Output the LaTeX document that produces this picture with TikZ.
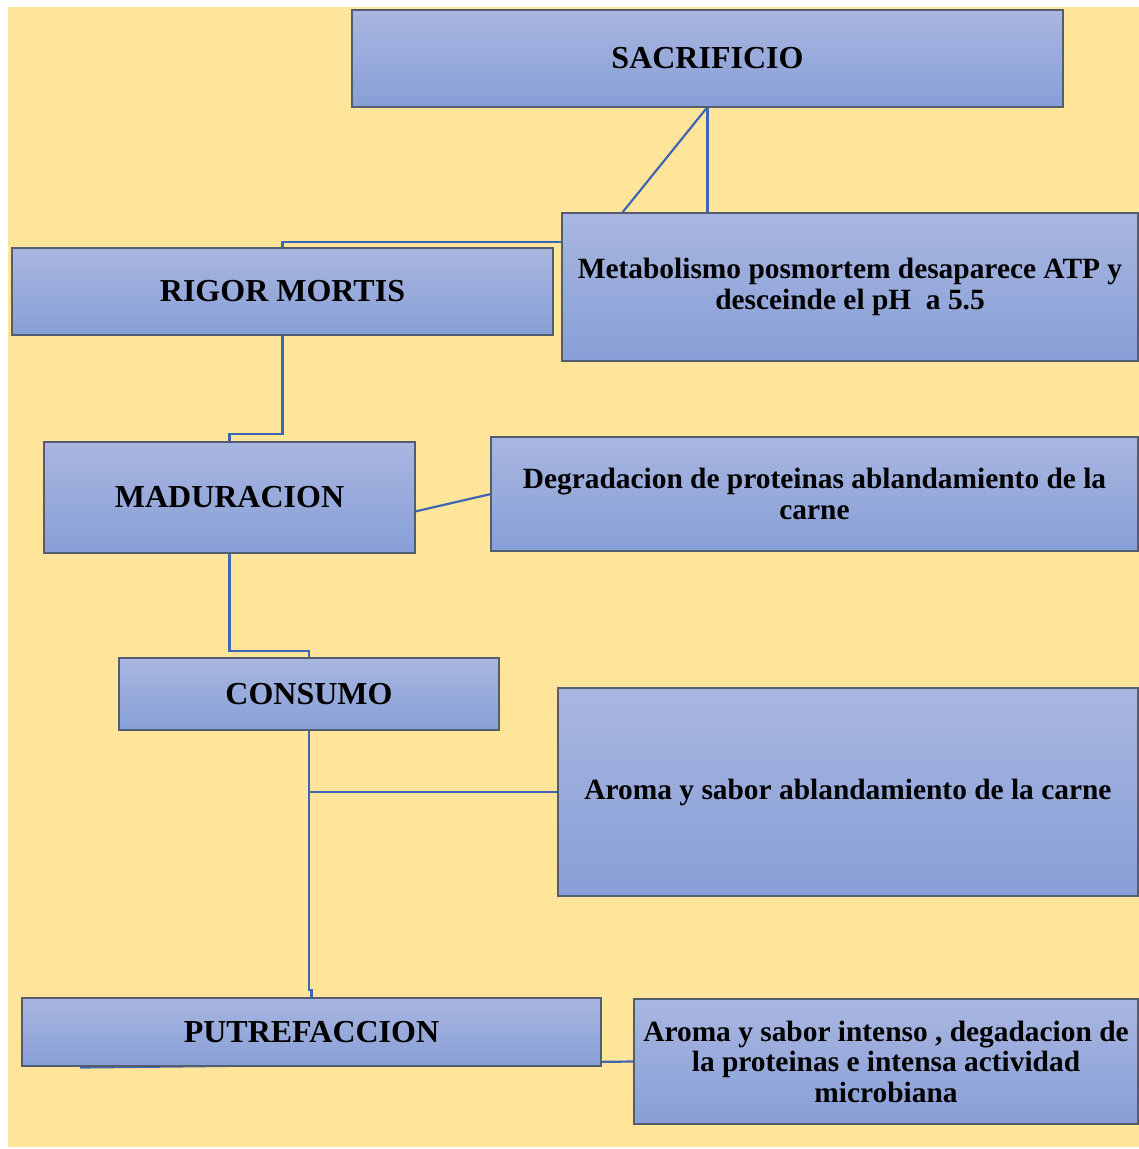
\documentclass[tikz,border=0pt]{standalone}
\usepackage{fontspec}
\setmainfont{Liberation Serif}
\usetikzlibrary{calc}
\pgfdeclarelayer{back}
\pgfsetlayers{back,main}
\definecolor{bgyellow}{RGB}{255,229,153}
\definecolor{boxtop}{RGB}{169,182,224}
\definecolor{boxbot}{RGB}{135,159,215}
\definecolor{boxline}{RGB}{84,92,112}
\definecolor{conn}{RGB}{62,102,180}
\tikzset{
  box/.style={draw=boxline, line width=1.1pt, top color=boxtop, bottom color=boxbot,
    inner sep=0pt, outer sep=0pt, align=center, font=\bfseries},
  head/.style={box, font=\fontsize{32}{36}\selectfont\bfseries},
  desc/.style={box, font=\fontsize{29.4}{30.5}\selectfont\bfseries},
  link/.style={draw=conn, line width=2.2pt}
}
\begin{document}
\begin{tikzpicture}[x=1pt,y=-1pt]
\useasboundingbox (0,0) rectangle (1139,1149);
\begin{pgfonlayer}{back}
\fill[bgyellow] (8,7) rectangle (1139,1147);
\end{pgfonlayer}
% nodes
\path
 node[head, minimum width=711pt, minimum height=97pt] (sac) at (707.5,58.5) {SACRIFICIO}
 node[desc, minimum width=576pt, minimum height=148pt] (meta) at (850,287) {Metabolismo posmortem desaparece ATP y\\desceinde el pH \ a 5.5}
 node[head, minimum width=541pt, minimum height=87pt] (rigor) at (282.5,291.5) {RIGOR MORTIS}
 node[head, minimum width=371pt, minimum height=111pt] (madu) at (229.5,497.5) {MADURACION}
 node[desc, minimum width=647pt, minimum height=114pt] (degr) at (814.5,494) {Degradacion de proteinas ablandamiento de la\\carne}
 node[head, minimum width=380pt, minimum height=72pt] (cons) at (309,694) {CONSUMO}
 node[desc, minimum width=580pt, minimum height=208pt] (aro1) at (848,792) {Aroma y sabor ablandamiento de la carne}
 node[head, minimum width=579pt, minimum height=68pt] (putre) at (311.5,1032) {PUTREFACCION}
 node[desc, minimum width=504pt, minimum height=125pt] (aro2) at (886,1061.5) {Aroma y sabor intenso , degadacion de\\la proteinas e intensa actividad\\microbiana};
% connectors
\begin{pgfonlayer}{back}
\draw[link] (sac.south) -- (sac.south |- meta.north);
\draw[link] (sac.south) -- ($(meta.north west)+(60,0)$);
\draw[link] ($(meta.north west)+(0,29)$) -| (rigor.north);
\draw[link] (rigor.south) -- ++(0,99) -| (madu.north);
\draw[link] ($(madu.east)+(0,14)$) -- (degr.west);
\draw[link] (madu.south) -- ++(0,98) -| (cons.north);
\draw[link] (cons.south) -- ++(0,260) -| (putre.north);
\draw[link] (aro1.west) -- (aro1.west -| cons.south);
\draw[link] (aro2.west) -- ($(putre.south west)+(58,1.5)$);
\end{pgfonlayer}
\end{tikzpicture}
\end{document}
